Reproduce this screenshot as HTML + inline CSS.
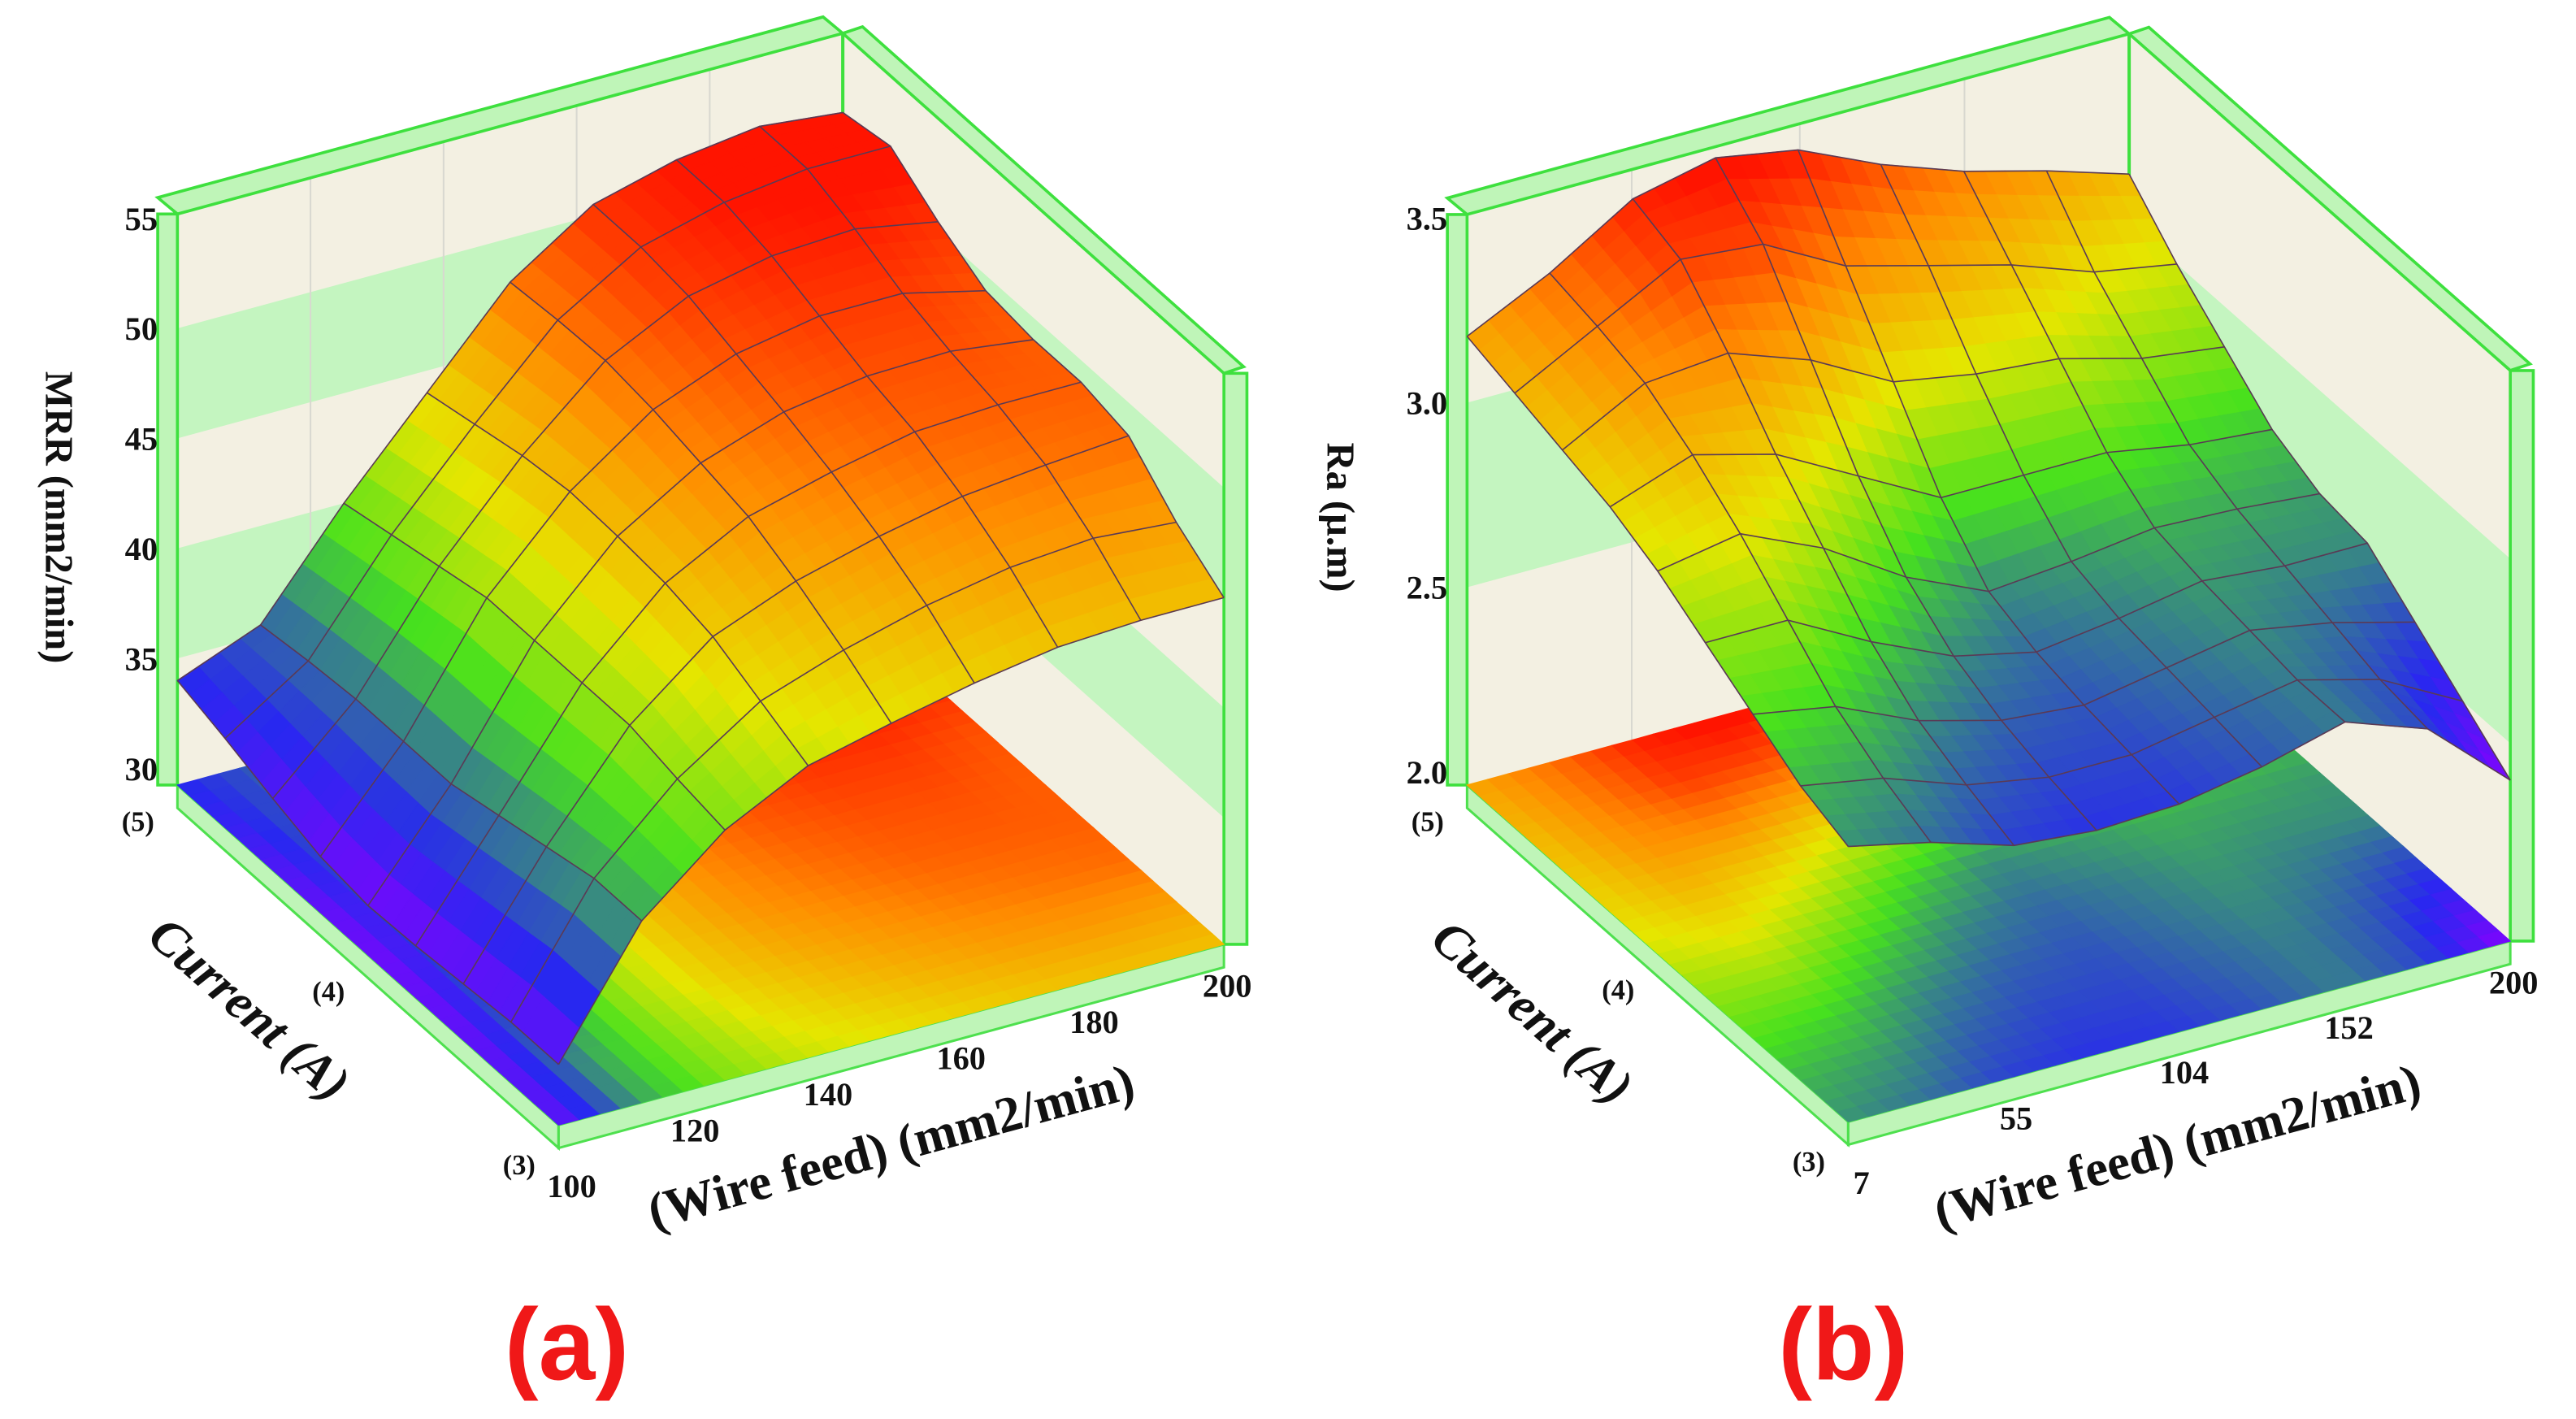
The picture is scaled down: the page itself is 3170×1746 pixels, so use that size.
<!DOCTYPE html>
<html><head><meta charset="utf-8">
<style>
html,body{margin:0;padding:0;background:#fff;}
svg{display:block;}
text{font-family:"Liberation Serif",serif;font-weight:bold;fill:#111;}
</style></head>
<body>
<svg id="fig" xmlns="http://www.w3.org/2000/svg" width="3170" height="1746" viewBox="0 0 1568 864" preserveAspectRatio="none">
<g id="pa"></g>
<g id="pb"></g>
</svg>
<script>
// ---------- Panel (a) data: MRR ----------
const mrrWireTicks = [100,120,140,160,180,200];
const mrrZTicks = [30,35,40,45,50,55];
const mrrCurrentTicks = ["(3)","(4)","(5)"];
const mrrCurrentLevels = [3,3.25,3.5,3.75,4,4.25,4.5,4.75,5];
const mrrWireLevels = [100,112.5,125,137.5,150,162.5,175,187.5,200];
const mrrValues = [
 [32,37.5,40.6,42.5,43.4,44.2,44.8,45,45],
 [32,37.5,41,43.5,44.8,45.8,46.5,46.8,46.5],
 [31.8,37,41.5,44.5,46,47,47.8,48.2,48.5],
 [31.6,36.5,41.5,45,47,48,48.8,49,49],
 [31.5,36,41.5,45.2,47.5,48.8,49.4,49.5,49],
 [31.8,36,41.5,45.3,48,49.5,50.2,50.2,49.3],
 [32.5,36,41,45,48.3,50.2,51,51.2,50.5],
 [33.3,35.8,40.5,44.5,48.2,50.5,51.5,52,52],
 [34,35.5,40,44,48,50.5,51.5,52,51.6]
];
// ---------- Panel (b) data: Ra ----------
const raWireTicks = [7,55,104,152,200];
const raZTicks = [2.0,2.5,3.0,3.5];
const raCurrentTicks = ["(3)","(4)","(5)"];
const raCurrentLevels = [3,3.25,3.5,3.75,4,4.25,4.5,4.75,5];
const raWireLevels = [7,31.1,55.3,79.4,103.5,127.6,151.8,175.9,200];
const raValues = [
 [2.71,2.66,2.59,2.57,2.58,2.62,2.68,2.60,2.40],
 [2.76,2.72,2.64,2.60,2.60,2.64,2.68,2.62,2.50],
 [2.84,2.80,2.70,2.64,2.62,2.66,2.70,2.66,2.60],
 [2.92,2.92,2.80,2.70,2.65,2.68,2.72,2.70,2.70],
 [3.00,3.04,2.94,2.80,2.70,2.72,2.75,2.74,2.72],
 [3.06,3.14,3.08,2.96,2.84,2.84,2.84,2.80,2.78],
 [3.10,3.22,3.24,3.16,3.04,3.00,2.98,2.92,2.89],
 [3.14,3.26,3.38,3.36,3.24,3.18,3.12,3.04,3.00],
 [3.18,3.29,3.43,3.48,3.44,3.34,3.26,3.20,3.13]
];

const NS='http://www.w3.org/2000/svg';
function el(tag,parent){const e=document.createElementNS(NS,tag);parent.appendChild(e);return e;}
const stops=[[0,[138,0,255]],[0.15,[40,40,240]],[0.4,[70,225,30]],[0.6,[230,230,0]],[0.8,[255,140,0]],[1,[255,20,0]]];
function cmap(t){t=Math.max(0,Math.min(1,t));for(let i=1;i<stops.length;i++){if(t<=stops[i][0]){const a=stops[i-1],b=stops[i];const f=(t-a[0])/(b[0]-a[0]);const c=a[1].map((v,k)=>Math.round(v+(b[1][k]-v)*f));return 'rgb('+c.join(',')+')';}}return 'rgb(255,20,0)';}

function drawPanel(g,cfg){
  const P=(u,v,z)=>[cfg.x0+cfg.ux*u+cfg.vx*v, cfg.y0+cfg.uy*u+cfg.vy*v-(z-cfg.zmin)*cfg.zs];
  const pts=a=>a.map(p=>p[0].toFixed(1)+','+p[1].toFixed(1)).join(' ');
  const W=cfg.wire, C=cfg.cur, V=cfg.vals;
  const wu=w=>(w-W[0])/(W[W.length-1]-W[0]);
  const cv=c=>(c-C[0])/(C[C.length-1]-C[0]);
  const zt=z=>(z-cfg.cmin)/(cfg.cmax-cfg.cmin);
  const top=cfg.zmax;
  const back=el('polygon',g);back.setAttribute('points',pts([P(0,1,cfg.zmin),P(1,1,cfg.zmin),P(1,1,top),P(0,1,top)]));back.setAttribute('fill','#f3f0e2');
  
  const right=el('polygon',g);right.setAttribute('points',pts([P(1,0,cfg.zmin),P(1,1,cfg.zmin),P(1,1,top),P(1,0,top)]));right.setAttribute('fill','#f3f0e2');
  
  cfg.bands.forEach(b=>{
    const p1=el('polygon',g);p1.setAttribute('points',pts([P(0,1,b[0]),P(1,1,b[0]),P(1,1,b[1]),P(0,1,b[1])]));p1.setAttribute('fill','#c4f5c0');
    
    const p2=el('polygon',g);p2.setAttribute('points',pts([P(1,0,b[0]),P(1,1,b[0]),P(1,1,b[1]),P(1,0,b[1])]));p2.setAttribute('fill','#c4f5c0');
    
  });
  cfg.wireTicks.forEach(w=>{const a=P(wu(w),1,cfg.zmin),b=P(wu(w),1,top);const l=el('line',g);l.setAttribute('x1',a[0]);l.setAttribute('y1',a[1]);l.setAttribute('x2',b[0]);l.setAttribute('y2',b[1]);l.setAttribute('stroke','#d8d8d0');l.setAttribute('stroke-width','1');
    });
  const d=14;
  const f0=P(0,1,cfg.zmin),f1=P(0,0,cfg.zmin),f2=P(1,0,cfg.zmin);
  const s1=el('polygon',g);s1.setAttribute('points',pts([f0,f1,[f1[0],f1[1]+d],[f0[0],f0[1]+d]]));s1.setAttribute('fill','#bff5b8');s1.setAttribute('stroke','#4ee04e');s1.setAttribute('stroke-width','1.5');
  
  const s2=el('polygon',g);s2.setAttribute('points',pts([f1,f2,[f2[0],f2[1]+d],[f1[0],f1[1]+d]]));s2.setAttribute('fill','#bff5b8');s2.setAttribute('stroke','#4ee04e');s2.setAttribute('stroke-width','1.5');
  
  const strip=(a,b,dx,dy,name)=>{const s=el('polygon',g);s.setAttribute('points',pts([a,b,[b[0]+dx,b[1]+dy],[a[0]+dx,a[1]+dy]]));s.setAttribute('fill','#bff5b8');s.setAttribute('stroke','#3ee03e');s.setAttribute('stroke-width','1.8');
    };
  strip(P(0,1,cfg.zmin),P(0,1,top),-12,0,'frame-left-post');
  strip(P(0,1,top),P(1,1,top),-12,-10,'frame-top-back');
  strip(P(1,1,top),P(1,0,top),12,-4,'frame-top-side');
  strip(P(1,0,top),P(1,0,cfg.zmin),14,0,'frame-right-post');
  const cl=el('line',g);const c0=P(1,1,top),c1=P(1,1,cfg.zmin);cl.setAttribute('x1',c0[0]);cl.setAttribute('y1',c0[1]);cl.setAttribute('x2',c1[0]);cl.setAttribute('y2',c1[1]);cl.setAttribute('stroke','#3ee03e');cl.setAttribute('stroke-width','2');
  
  const N=4;
  const cells=[];
  for(let i=0;i<C.length-1;i++)for(let j=0;j<W.length-1;j++)for(let a=0;a<N;a++)for(let b=0;b<N;b++){
    const t0=a/N,t1=(a+1)/N,s0=b/N,s1=(b+1)/N;
    const val=(t,s)=>{const z00=V[i][j],z01=V[i][j+1],z10=V[i+1][j],z11=V[i+1][j+1];return (1-t)*((1-s)*z00+s*z01)+t*((1-s)*z10+s*z11);};
    const cu=s=>wu(W[j])+(wu(W[j+1])-wu(W[j]))*s, vv=t=>cv(C[i])+(cv(C[i+1])-cv(C[i]))*t;
    cells.push({u0:cu(s0),u1:cu(s1),v0:vv(t0),v1:vv(t1),z:[val(t0,s0),val(t0,s1),val(t1,s1),val(t1,s0)]});
  }
  const fg=el('g',g);
  cells.forEach(c=>{const p=el('polygon',fg);const zm=(c.z[0]+c.z[1]+c.z[2]+c.z[3])/4;const col=cmap(zt(zm));
    p.setAttribute('points',pts([P(c.u0,c.v0,cfg.zmin),P(c.u1,c.v0,cfg.zmin),P(c.u1,c.v1,cfg.zmin),P(c.u0,c.v1,cfg.zmin)]));p.setAttribute('fill',col);p.setAttribute('stroke',col);p.setAttribute('stroke-width','0.6');
    });
  const sg=el('g',g);
  cells.slice().sort((a,b)=>(b.u0+b.v0)-(a.u0+a.v0)).forEach(c=>{const p=el('polygon',sg);const zm=(c.z[0]+c.z[1]+c.z[2]+c.z[3])/4;const col=cmap(zt(zm));
    p.setAttribute('points',pts([P(c.u0,c.v0,c.z[0]),P(c.u1,c.v0,c.z[1]),P(c.u1,c.v1,c.z[2]),P(c.u0,c.v1,c.z[3])]));p.setAttribute('fill',col);p.setAttribute('stroke',col);p.setAttribute('stroke-width','0.6');
    });
  const mg=el('g',g);
  for(let i=0;i<C.length;i++){const l=el('polyline',mg);l.setAttribute('points',pts(W.map((w,j)=>P(wu(w),cv(C[i]),V[i][j]))));l.setAttribute('fill','none');l.setAttribute('stroke','#5a3a55');l.setAttribute('stroke-width','0.8');
    }
  for(let j=0;j<W.length;j++){const l=el('polyline',mg);l.setAttribute('points',pts(C.map((c,i)=>P(wu(W[j]),cv(c),V[i][j]))));l.setAttribute('fill','none');l.setAttribute('stroke','#5a3a55');l.setAttribute('stroke-width','0.8');
    }
  cfg.zTicks.forEach(z=>{const p=P(0,1,z);const t=el('text',g);t.setAttribute('x',p[0]-12);t.setAttribute('y',p[1]+7);t.setAttribute('text-anchor','end');t.setAttribute('font-size','20');t.textContent=cfg.zfmt(z);
    });
  cfg.wireTicks.forEach((w,k)=>{const p=P(wu(w),0,cfg.zmin);const t=el('text',g);t.setAttribute('x',p[0]+(k==0?8:2));t.setAttribute('y',p[1]+(k==0?44:32));t.setAttribute('text-anchor','middle');t.setAttribute('font-size','20');t.textContent=w;
    });
  cfg.curTicks.forEach((c,k)=>{const p=P(0,k/2,cfg.zmin);const t=el('text',g);t.setAttribute('x',p[0]-24);t.setAttribute('y',p[1]+(k==0?30:28));t.setAttribute('text-anchor','middle');t.setAttribute('font-size','17');t.textContent=c;
    });
  const zt1=el('text',g);zt1.setAttribute('transform','translate('+cfg.zTitle[0]+','+cfg.zTitle[1]+') rotate(90)');zt1.setAttribute('text-anchor','middle');zt1.setAttribute('font-size','24');zt1.textContent=cfg.zLabel;
  
  const ct=el('text',g);ct.setAttribute('transform','translate('+cfg.cTitle[0]+','+cfg.cTitle[1]+') rotate(41.5)');ct.setAttribute('text-anchor','middle');ct.setAttribute('font-size','31');ct.setAttribute('font-style','italic');ct.textContent='Current (A)';
  
  const wt=el('text',g);wt.setAttribute('transform','translate('+cfg.wTitle[0]+','+cfg.wTitle[1]+') rotate(-15.3)');wt.setAttribute('text-anchor','middle');wt.setAttribute('font-size','31');wt.textContent='(Wire feed) (mm2/min)';
  
  const pl=el('text',g);pl.setAttribute('x',cfg.pLabel[0]);pl.setAttribute('y',cfg.pLabel[1]);pl.setAttribute('text-anchor','middle');pl.setAttribute('font-size','62');pl.setAttribute('style','font-family:"Liberation Sans",sans-serif;fill:#f01818;font-weight:bold');pl.textContent=cfg.pText;
  
}

drawPanel(document.getElementById('pa'),{
  x0:340,y0:685,ux:405,uy:-110,vx:-232,vy:-207,zmin:29.25,zmax:55.2,zs:13.4,cmin:31,cmax:51.5,
  wire:mrrWireLevels,cur:mrrCurrentLevels,vals:mrrValues,wireTicks:mrrWireTicks,zTicks:mrrZTicks,curTicks:mrrCurrentTicks,
  bands:[[35,40],[45,50]],zfmt:z=>String(z),zLabel:'MRR (mm2/min)',zTitle:[28,315],cTitle:[145,622],wTitle:[545,708],pLabel:[345,840],pText:'(a)'
});
drawPanel(document.getElementById('pb'),{
  x0:1125,y0:683,ux:403,uy:-110,vx:-232,vy:-205,zmin:1.964,zmax:3.51,zs:224.7,cmin:2.4,cmax:3.45,
  wire:raWireLevels,cur:raCurrentLevels,vals:raValues,wireTicks:raWireTicks,zTicks:raZTicks,curTicks:raCurrentTicks,
  bands:[[2.5,3.0]],zfmt:z=>z.toFixed(1),zLabel:'Ra (µ.m)',zTitle:[808,315],cTitle:[926,624],wTitle:[1328,708],pLabel:[1122,840],pText:'(b)'
});
</script>
</body></html>
